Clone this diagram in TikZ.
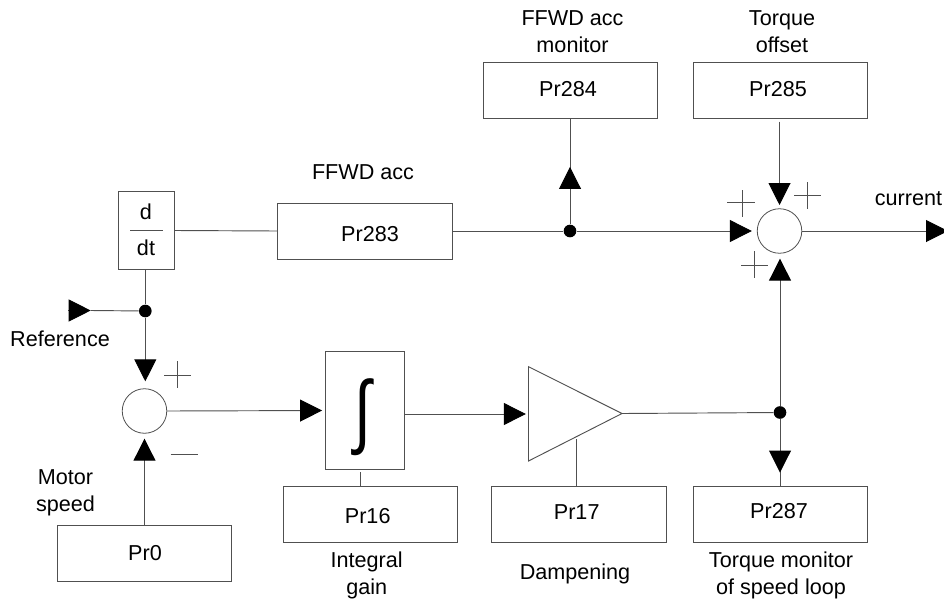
\documentclass[tikz,border=0pt]{standalone}
\usepackage{fontspec}
\setmainfont{Liberation Sans}
\usetikzlibrary{arrows.meta, positioning, calc}
\definecolor{boxgray}{RGB}{80, 80, 80}
\tikzset{
  prbox/.style={draw=boxgray, line width=0.7pt, minimum width=131pt, minimum height=42pt, inner sep=0pt},
  prtext/.style={inner sep=0pt, font=\fontsize{16.2}{20}\selectfont},
  sumnode/.style={draw=boxgray, circle, line width=0.6pt, minimum size=33.4pt, inner sep=0pt},
  junction/.style={fill=black, circle, minimum size=9.5pt, inner sep=0pt},
  labeltext/.style={align=center, inner sep=0pt, font=\fontsize{16.2}{20}\selectfont},
  sig/.style={draw=boxgray, line width=0.7pt, -{Triangle[length=16.5pt, width=16.5pt, fill=black, color=black]}},
  wire/.style={draw=boxgray, line width=0.7pt},
  signmark/.style={draw=boxgray, line width=0.6pt}
}
\begin{document}
\begin{tikzpicture}[x=0.75pt, y=-0.75pt]
  \useasboundingbox (0,0) rectangle (944,603);
  % Upper path
  \node[draw=boxgray, line width=0.7pt, minimum width=42.5pt, minimum height=59pt, inner sep=0pt] (ddt) at (146.4,230.5) {};
  \node[prtext] (ddtd) at (146,212) {d};
  \node[prtext] (ddtt) at (146,248) {dt};
  \coordinate (barl) at (130,230.5);
  \coordinate (barr) at (163,230.5);
  \draw[wire] (barl) -- (barr);
  \node[prbox] (prff) at (364.7,231) {};
  \node[prtext] (prfftext) at (370,234) {Pr283};
  \node[prbox] (prmon) at (570.5,90.5) {};
  \node[prtext] (prmontext) at (568,89.5) {Pr284};
  \node[prbox] (proff) at (780.5,90.5) {};
  \node[prtext] (profftext) at (778,89.5) {Pr285};
  \node[sumnode] (sumtop) at (779.5,231) {};
  \node[sumnode] (sumin) at (144.5,411) {};
  \node[junction] (jref) at (145.3,311) {};
  \node[junction] (jff) at (570,231) {};
  \node[junction] (jtq) at (780,412.5) {};
  % Lower path
  \node[draw=boxgray, line width=0.7pt, minimum width=59.7pt, minimum height=88pt, inner sep=0pt] (intbox) at (365,410.5) {};
  \node[inner sep=0pt, font=\fontsize{61}{61}\selectfont] (intsym) at (362.5,417) {\scalebox{0.75}[1]{∫}};
  \node[prbox] (print) at (370.3,514) {};
  \node[prtext] (printtext) at (367.7,516.5) {Pr16};
  \node[prbox] (prdamp) at (579,514) {};
  \node[prtext] (prdamptext) at (576.7,512) {Pr17};
  \node[prbox] (prtq) at (780.5,514) {};
  \node[prtext] (prtqtext) at (779,511.5) {Pr287};
  \node[prbox] (prspd) at (144.5,553) {};
  \node[prtext] (prspdtext) at (145,553) {Pr0};
  \coordinate (ampa) at (528.5,366.7);
  \coordinate (ampb) at (528.5,461);
  \coordinate (ampc) at (622,413.5);
  \draw[wire] (ampa) -- (ampb) -- (ampc) -- cycle;
  \coordinate (refin) at (68,310.5);
  \coordinate (refhead) at (90.7,310.5);
  \coordinate (curout) at (948,231);
  \coordinate (dampup) at (576,439);
  \coordinate (intdown) at (360.7,472);
  \coordinate (intout) at (405,414);
  \coordinate (ampin) at (528.5,414);
  % Connectors
  \draw[wire] (ddt.east) -- (prff.west);
  \draw[wire] (prff.east |- jff) -- (jff);
  \draw[sig, shorten >=3.75pt] (jff) -- (sumtop.west);
  \draw[wire] (jff) -- (prmon.south -| jff);
  \draw[sig, shorten >=36pt] (jff) -- (prmon.south -| jff);
  \draw[sig, shorten <=2pt, shorten >=2.5pt] (proff.south -| sumtop) -- (sumtop.north);
  \draw[sig] (sumtop.east) -- (curout);
  \draw[wire] (ddt.south -| jref) -- (jref);
  \draw[sig, shorten >=5.25pt] (jref) -- (sumin.north -| jref);
  \draw[sig] (refin) -- (refhead);
  \draw[wire] (refhead) -- (jref);
  \draw[sig, shorten >=3.75pt] (prspd.north) -- (sumin.south);
  \draw[sig, shorten >=2pt] (sumin.east) -- (intbox.west);
  \draw[sig, shorten >=2pt] (intout) -- (ampin);
  \draw[wire] (ampc) -- (jtq);
  \draw[sig, shorten >=3.75pt] (jtq) -- (sumtop.south -| jtq);
  \draw[wire] (jtq) -- (jtq |- prtq.north);
  \draw[sig, shorten >=9.75pt] (jtq) -- (jtq |- prtq.north);
  \draw[wire] (intdown) -- (print.north -| intdown);
  \draw[wire] (dampup) -- (prdamp.north -| dampup);
  % Signs
  \draw[signmark] (164,375.7) -- (191,375.7) (177.3,361) -- (177.3,387.7);
  \draw[signmark] (170.7,454.3) -- (198,454.3);
  \draw[signmark] (727.3,202.7) -- (755,202.7) (742,190) -- (742,216.7);
  \draw[signmark] (794,195) -- (821,195) (807.7,182) -- (807.7,209);
  \draw[signmark] (741,265.7) -- (768,265.7) (754.7,251) -- (754.7,278);
  % Labels
  \node[labeltext] (lblffmon) at (572.5,32) {FFWD acc\\monitor};
  \node[labeltext] (lbloff) at (782,32) {Torque\\offset};
  \node[labeltext] (lblff) at (363,172) {FFWD acc};
  \node[labeltext] (lblcur) at (908.5,199) {current};
  \node[labeltext] (lblref) at (60,339) {Reference};
  \node[labeltext] (lblspd) at (65.5,492.5) {Motor\\speed};
  \node[labeltext] (lblint) at (366.7,575.5) {Integral\\gain};
  \node[labeltext] (lbldamp) at (575,574) {Dampening};
  \node[labeltext] (lbltq) at (781,575.5) {Torque monitor\\of speed loop};
\end{tikzpicture}
\end{document}
